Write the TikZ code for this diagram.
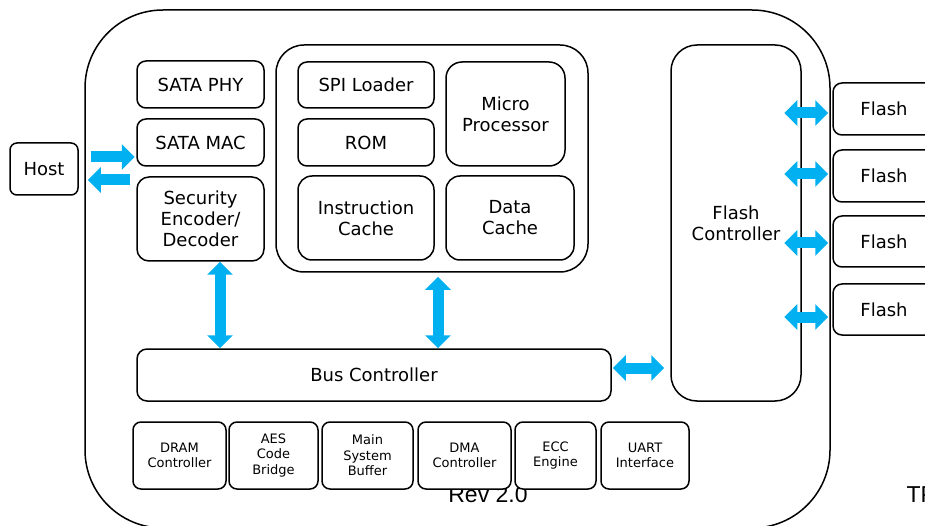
\documentclass[tikz,border=0pt]{standalone}
\usepackage{fontspec}
\setmainfont{DejaVu Sans}
\newfontfamily\revfont{Liberation Sans}
\usetikzlibrary{arrows.meta}
\definecolor{busblue}{RGB}{0,176,240}

\begin{document}
\begin{tikzpicture}[x=1pt, y=-1pt,
  blk/.style={draw, line width=1.5pt, fill=white, rounded corners=#1, align=center, inner sep=0pt, font=\fontsize{18}{21}\selectfont},
  blk/.default=9pt,
  small/.style={blk=8pt, font=\fontsize{13}{15.5}\selectfont, minimum height=67pt},
  dbl/.style={line width=11pt, busblue, {Triangle[width=25pt,length=13pt]}-{Triangle[width=25pt,length=13pt]}},
  one/.style={line width=11pt, busblue, -{Triangle[width=25pt,length=13pt]}}]
\useasboundingbox (0,0) rectangle (925,526);
\clip (0,0) rectangle (925,526);
\node[blk=78pt, minimum width=745pt, minimum height=518pt] (ssd) at (457.5,269) {};
\node[blk=7pt, minimum width=68pt, minimum height=52pt] (host) at (44,169) {Host};
\node[font=\revfont\fontsize{23}{23}\selectfont, anchor=base] (rev) at (488,502) {Rev 2.0};
\node[font=\revfont\fontsize{23}{23}\selectfont, anchor=base west] (tp) at (903,502) {TP};
% host side
\node[blk, minimum width=127pt, minimum height=47pt] (sataphy) at (200.5,84.5) {SATA PHY};
\node[blk, minimum width=127pt, minimum height=47pt] (satamac) at (200.5,142.5) {SATA MAC};
\node[blk=12pt, minimum width=127pt, minimum height=84pt] (secu) at (200.5,219) {Security\\Encoder/\\Decoder};
\draw[one] ([xshift=12pt,yshift=12pt]host.east) -- ([xshift=56pt,yshift=12pt]host.east);
\draw[one] ([xshift=51pt,yshift=-11pt]host.east) -- ([xshift=9pt,yshift=-11pt]host.east);
% processor group
\node[blk=28pt, minimum width=312pt, minimum height=227pt] (cpu) at (432,158.5) {};
\node[blk, minimum width=136pt, minimum height=46pt] (spi) at (366,85) {SPI Loader};
\node[blk, minimum width=136pt, minimum height=47pt] (rom) at (366,142.5) {ROM};
\node[blk=14pt, minimum width=136pt, minimum height=84pt] (icache) at (366,218) {Instruction\\Cache};
\node[blk=16pt, minimum width=119pt, minimum height=104pt] (mproc) at (505.5,114) {Micro\\Processor};
\node[blk=14pt, minimum width=128pt, minimum height=84pt] (dcache) at (510,218) {Data\\Cache};
% bus
\node[blk=10pt, minimum width=474pt, minimum height=52pt] (bus) at (374,375) {Bus Controller};
\draw[dbl] ([xshift=19.5pt]secu.south) -- ([xshift=-154pt]bus.north);
\draw[dbl] ([xshift=6pt,yshift=-4pt]cpu.south) -- ([xshift=64pt]bus.north);
% flash side
\node[blk=26pt, minimum width=130pt, minimum height=356pt] (fctrl) at (736,223) {Flash\\Controller};
\draw[dbl] ([xshift=1pt,yshift=7pt]bus.east) -- ([xshift=-6pt,yshift=-145pt]fctrl.west);
\node[blk, minimum width=102pt, minimum height=52pt] (flash1) at (884,109) {Flash};
\node[blk, minimum width=102pt, minimum height=52pt] (flash2) at (884,176) {Flash};
\node[blk, minimum width=102pt, minimum height=51pt] (flash3) at (884,241.5) {Flash};
\node[blk, minimum width=102pt, minimum height=51pt] (flash4) at (884,309.5) {Flash};
\draw[dbl] ([xshift=-48pt,yshift=-4pt]flash1.west) -- ([xshift=-4pt,yshift=-4pt]flash1.west);
\draw[dbl] ([xshift=-48pt,yshift=2pt]flash2.west) -- ([xshift=-4pt,yshift=2pt]flash2.west);
\draw[dbl] ([xshift=-48pt,yshift=-1.5pt]flash3.west) -- ([xshift=-4pt,yshift=-1.5pt]flash3.west);
\draw[dbl] ([xshift=-48pt,yshift=-7.5pt]flash4.west) -- ([xshift=-4pt,yshift=-7.5pt]flash4.west);
% bottom row
\node[small, minimum width=93pt] (dram) at (179.5,455.5) {DRAM\\Controller};
\node[small, minimum width=89pt] (aes) at (273.5,455.5) {AES\\Code\\Bridge};
\node[small, minimum width=91pt] (msb) at (367.5,455.5) {Main\\System\\Buffer};
\node[small, minimum width=93pt] (dma) at (464.5,455.5) {DMA\\Controller};
\node[small, minimum width=81pt] (ecc) at (555.5,455.5) {ECC\\Engine};
\node[small, minimum width=88pt] (uart) at (645,455.5) {UART\\Interface};
\end{tikzpicture}
\end{document}
